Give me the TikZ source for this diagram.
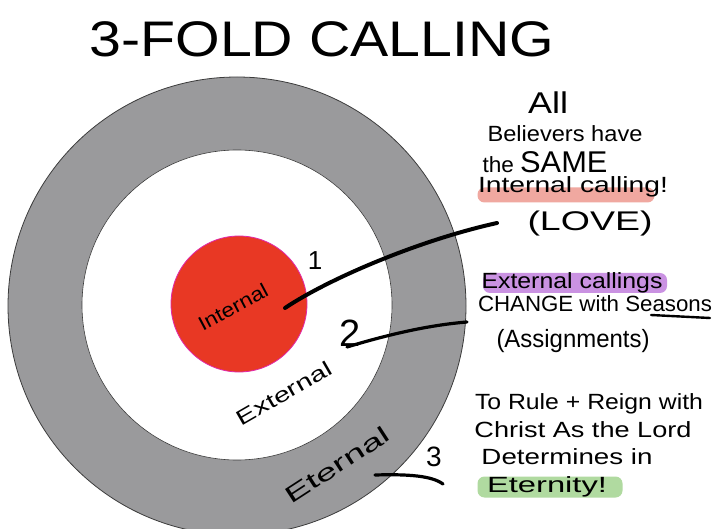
\documentclass[tikz,border=0pt]{standalone}
\usepackage{fontspec}
\usepackage{graphicx}
\setmainfont{Liberation Sans}
\definecolor{ringgray}{RGB}{154,154,156}
\definecolor{ringedge}{RGB}{60,60,60}
\definecolor{corered}{RGB}{232,56,36}
\definecolor{coreedge}{RGB}{225,40,170}
\definecolor{hlpink}{RGB}{240,168,160}
\definecolor{hlpurple}{RGB}{202,146,226}
\definecolor{hlgreen}{RGB}{176,218,160}
\newcommand\wfit[2]{\resizebox{#1}{\height}{#2}}
\begin{document}
\begin{tikzpicture}[x=1pt,y=-1pt,
  hand/.style={inner sep=0pt, font=\fontsize{22}{24}\selectfont},
  ringlabel/.style={inner sep=0pt, font=\fontsize{18}{20}\selectfont},
  numlabel/.style={inner sep=0pt, font=\fontsize{26}{28}\selectfont},
  highlight/.style={inner sep=0pt, rounded corners=7pt},
  pen/.style={line cap=round, line join=round, draw=black}]
\useasboundingbox (0,0) rectangle (723,529);
\fill[white] (0,0) rectangle (723,529);
\clip (0,0) rectangle (723,529);
% target rings
\node[circle, draw=ringedge, line width=0.8pt, fill=ringgray, minimum size=458pt, inner sep=0pt] (outer) at (237,306) {};
\node[circle, draw=ringedge, line width=0.6pt, fill=white, minimum size=310pt, inner sep=0pt] (middle) at (237,305) {};
\node[circle, draw=coreedge, line width=0.8pt, fill=corered, minimum size=136pt, inner sep=0pt] (core) at (239,304) {};
% title
\node[inner sep=0pt, font=\fontsize{50}{54}\selectfont] (title) at (322,39) {\wfit{465pt}{3-FOLD CALLING}};
% ring labels
\node[ringlabel, font=\fontsize{20}{22}\selectfont, rotate=28] (lint) at (233,307) {\wfit{76pt}{Internal}};
\node[ringlabel, font=\fontsize{21}{23}\selectfont, rotate=30] (lext) at (284,393) {\wfit{106pt}{External}};
\node[ringlabel, font=\fontsize{23}{25}\selectfont, rotate=33] (leter) at (337,465) {\wfit{120pt}{Eternal}};
\node[numlabel] (n1) at (315,261) {1};
\node[numlabel, font=\fontsize{38}{40}\selectfont] (n2) at (350,333) {2};
\node[numlabel, font=\fontsize{28}{30}\selectfont] (n3) at (434,457) {3};
% highlights
\node[highlight, fill=hlpink, minimum width=177pt, minimum height=15pt] (hl1) at (566,195) {};
\node[highlight, fill=hlpurple, minimum width=184pt, minimum height=20pt] (hl2) at (575,283) {};
\node[highlight, fill=hlgreen, minimum width=145pt, minimum height=21pt] (hl3) at (550,487) {};
% text block 1
\node[hand, font=\fontsize{30}{32}\selectfont] (t1a) at (548,103) {\wfit{40pt}{All}};
\node[hand] (t1b) at (565,134) {\wfit{155pt}{Believers have}};
\node[hand] (t1c) at (545,162) {\wfit{125pt}{the {\fontsize{30}{32}\selectfont SAME}}};
\node[hand] (t1d) at (573,187) {\wfit{190pt}{Internal calling!}};
\node[hand, font=\fontsize{27}{29}\selectfont] (t1e) at (590,224) {\wfit{125pt}{(LOVE)}};
% text block 2
\node[hand] (t2a) at (572,283) {\wfit{181pt}{External callings}};
\node[hand] (t2b) at (595,304) {\wfit{234pt}{CHANGE with Seasons}};
\node[hand, font=\fontsize{25}{27}\selectfont] (t2c) at (573,341) {\wfit{153pt}{(Assignments)}};
% text block 3
\node[hand] (t3a) at (589,404) {\wfit{228pt}{To Rule + Reign with}};
\node[hand] (t3b) at (583,430) {\wfit{217pt}{Christ As the Lord}};
\node[hand] (t3c) at (567,457) {\wfit{171pt}{Determines in}};
\node[hand] (t3d) at (547,487) {\wfit{120pt}{Eternity!}};
% pointer lines
\coordinate (p1) at (285,308);
\coordinate (q1) at (497,223);
\coordinate (p2) at (347,347);
\coordinate (q2) at (467,322);
\coordinate (p3) at (375,475);
\coordinate (q3) at (443,484);
\coordinate (u1) at (651,315);
\coordinate (u2) at (710,318);
\draw[pen, line width=4pt] (p1) .. controls (330,278) and (420,240) .. (q1);
\draw[pen, line width=3.2pt] (p2) .. controls (390,334) and (430,325) .. (q2);
\draw[pen, line width=3.2pt] (p3) .. controls (410,474) and (432,476) .. (q3);
\draw[pen, line width=2.4pt] (u1) -- (u2);
\end{tikzpicture}
\end{document}
